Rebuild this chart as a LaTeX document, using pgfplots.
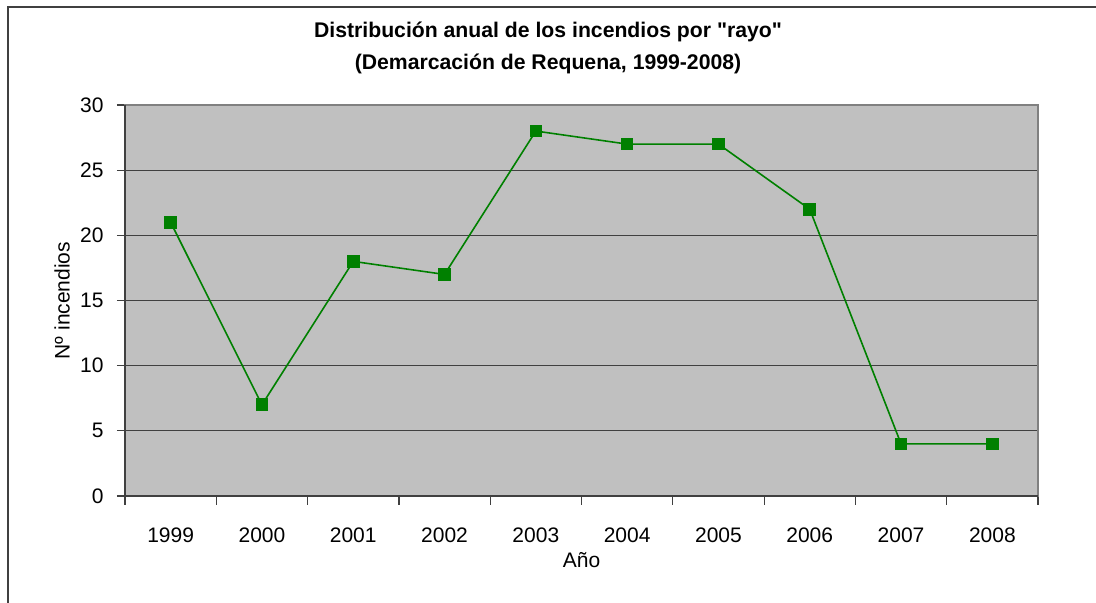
\documentclass[border=0pt]{standalone}
\usepackage{fontspec}
\setmainfont{Liberation Sans}[Ligatures=TeXOff]
\usepackage{pgfplots}
\pgfplotsset{compat=1.18}
\definecolor{plotgray}{HTML}{C0C0C0}
\definecolor{linegreen}{HTML}{008000}
\definecolor{gridc}{HTML}{404040}
\definecolor{framec}{HTML}{808080}
\begin{document}
\fontsize{10.5}{12.6}\selectfont
\begin{tikzpicture}[x=1pt,y=1pt]
\useasboundingbox (0,0) rectangle (548,301.5);
\draw[line width=1pt, color=gridc] (4,0) -- (4,298) -- (548,298);
\node[font=\bfseries\fontsize{10.6}{16}\selectfont, align=center] at (274,277.5) {Distribución anual de los incendios por "rayo"\\(Demarcación de Requena, 1999-2008)};
\begin{axis}[
  at={(62.5pt,53.5pt)}, anchor=south west, scale only axis,
  width=456.5pt, height=195.5pt,
  xmin=-0.5, xmax=9.5, ymin=0, ymax=30,
  axis background/.style={fill=plotgray},
  axis line style={draw=framec, line width=1pt},
  xtick={0,1,2,3,4,5,6,7,8,9},
  xticklabels={1999,2000,2001,2002,2003,2004,2005,2006,2007,2008},
  minor xtick={-0.5,0.5,1.5,2.5,3.5,4.5,5.5,6.5,7.5,8.5,9.5},
  ytick={0,5,10,15,20,25,30},
  xtick pos=bottom, ytick pos=left,
  ymajorgrids,
  major grid style={draw=gridc, line width=0.5pt},
  tick align=outside,
  major tick length=4pt,
  minor tick length=4.5pt,
  major x tick style={draw=none},
  minor x tick style={draw=gridc, line width=0.6pt},
  major y tick style={draw=gridc, line width=0.6pt},
  /pgf/number format/assume math mode=true,
  tick label style={font=\fontsize{10.5}{12}\selectfont},
  yticklabel style={xshift=-3pt},
  xticklabel style={yshift=-8pt},
  label style={font=\fontsize{10.5}{12}\selectfont},
  xlabel={Año},
  ylabel={Nº incendios},
  xlabel style={at={(axis description cs:0.5,-0.1637)}, anchor=center},
  ylabel style={at={(axis description cs:-0.069,0.5)}, anchor=center},
  clip=false,
]
\addplot[color=linegreen, line width=0.8pt, mark=square*, mark size=2.9pt,
  mark options={fill=linegreen, draw=linegreen, line width=0pt}]
  coordinates {(0,21) (1,7) (2,18) (3,17) (4,28) (5,27) (6,27) (7,22) (8,4) (9,4)};
\draw[gridc, line width=1pt] (rel axis cs:0,1) -- (rel axis cs:0,0) -- (rel axis cs:1,0);
\end{axis}
\end{tikzpicture}
\end{document}
